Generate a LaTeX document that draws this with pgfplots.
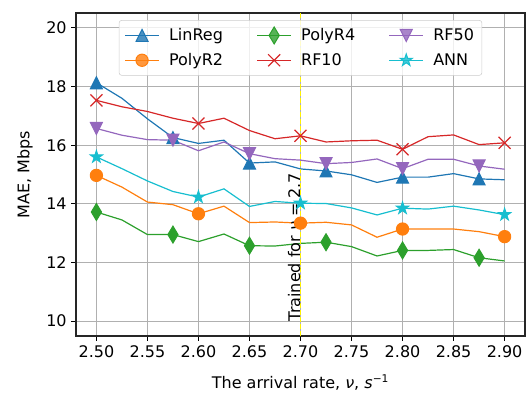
\documentclass[border=0pt]{standalone}
\usepackage{fontspec}
\setmainfont{DejaVu Sans}
\usepackage{pgfplots}
\pgfplotsset{compat=1.18}

\definecolor{c1}{HTML}{1F77B4}
\definecolor{c2}{HTML}{FF7F0E}
\definecolor{c3}{HTML}{2CA02C}
\definecolor{c4}{HTML}{D62728}
\definecolor{c5}{HTML}{9467BD}
\definecolor{c6}{HTML}{17BECF}
\definecolor{gridc}{HTML}{B0B0B0}

\pgfdeclareplotmark{mtri}{%
  \pgfpathmoveto{\pgfqpoint{0pt}{\pgfplotmarksize}}%
  \pgfpathlineto{\pgfqpoint{-\pgfplotmarksize}{-\pgfplotmarksize}}%
  \pgfpathlineto{\pgfqpoint{\pgfplotmarksize}{-\pgfplotmarksize}}%
  \pgfpathclose\pgfusepathqfillstroke}
\pgfdeclareplotmark{mtridown}{%
  \pgfpathmoveto{\pgfqpoint{0pt}{-\pgfplotmarksize}}%
  \pgfpathlineto{\pgfqpoint{-\pgfplotmarksize}{\pgfplotmarksize}}%
  \pgfpathlineto{\pgfqpoint{\pgfplotmarksize}{\pgfplotmarksize}}%
  \pgfpathclose\pgfusepathqfillstroke}
\pgfdeclareplotmark{tdiamond}{%
  \pgfpathmoveto{\pgfqpoint{0pt}{1.414\pgfplotmarksize}}%
  \pgfpathlineto{\pgfqpoint{0.85\pgfplotmarksize}{0pt}}%
  \pgfpathlineto{\pgfqpoint{0pt}{-1.414\pgfplotmarksize}}%
  \pgfpathlineto{\pgfqpoint{-0.85\pgfplotmarksize}{0pt}}%
  \pgfpathclose\pgfusepathqfillstroke}
\pgfdeclareplotmark{mx}{%
  \pgfpathmoveto{\pgfqpoint{-\pgfplotmarksize}{-\pgfplotmarksize}}%
  \pgfpathlineto{\pgfqpoint{\pgfplotmarksize}{\pgfplotmarksize}}%
  \pgfpathmoveto{\pgfqpoint{-\pgfplotmarksize}{\pgfplotmarksize}}%
  \pgfpathlineto{\pgfqpoint{\pgfplotmarksize}{-\pgfplotmarksize}}%
  \pgfusepathqstroke}
\pgfdeclareplotmark{fstar}{%
  \pgfpathmoveto{\pgfqpointpolar{90}{\pgfplotmarksize}}%
  \pgfpathlineto{\pgfqpointpolar{126}{0.382\pgfplotmarksize}}%
  \pgfpathlineto{\pgfqpointpolar{162}{\pgfplotmarksize}}%
  \pgfpathlineto{\pgfqpointpolar{198}{0.382\pgfplotmarksize}}%
  \pgfpathlineto{\pgfqpointpolar{234}{\pgfplotmarksize}}%
  \pgfpathlineto{\pgfqpointpolar{270}{0.382\pgfplotmarksize}}%
  \pgfpathlineto{\pgfqpointpolar{306}{\pgfplotmarksize}}%
  \pgfpathlineto{\pgfqpointpolar{342}{0.382\pgfplotmarksize}}%
  \pgfpathlineto{\pgfqpointpolar{18}{\pgfplotmarksize}}%
  \pgfpathlineto{\pgfqpointpolar{54}{0.382\pgfplotmarksize}}%
  \pgfpathclose\pgfusepathqfillstroke}

\pgfplotsset{
  sLin/.style={color=c1, line width=0.9pt, mark=mtri, mark size=4.5pt, mark repeat=3, mark options={solid, line width=0.75pt}},
  sP2/.style={color=c2, line width=0.9pt, mark=*, mark size=4.6pt, mark repeat=4, mark options={solid, line width=0.75pt}},
  sP4/.style={color=c3, line width=0.9pt, mark=tdiamond, mark size=4.5pt, mark repeat=3, mark options={solid, line width=0.75pt}},
  sRF10/.style={color=c4, line width=0.9pt, mark=mx, mark size=4.5pt, mark repeat=4, mark options={solid, line width=0.9pt}},
  sRF50/.style={color=c5, line width=0.9pt, mark=mtridown, mark size=4.5pt, mark repeat=3, mark options={solid, line width=0.75pt}},
  sANN/.style={color=c6, line width=0.9pt, mark=fstar, mark size=4.8pt, mark repeat=4, mark options={solid, line width=0.75pt}},
}

\begin{document}
\begin{tikzpicture}
\begin{axis}[
  scale only axis, width=336.75pt, height=242.25pt,
  font=\fontsize{12}{14.4}\selectfont,
  xmin=2.48, xmax=2.92, ymin=9.49, ymax=20.51,
  xtick={2.5,2.55,2.6,2.65,2.7,2.75,2.8,2.85,2.9},
  ytick={10,12,14,16,18,20},
  xticklabel style={/pgf/number format/.cd, fixed, fixed zerofill, precision=2},
  /pgf/number format/assume math mode=true,
  grid=major, major grid style={color=gridc, line width=0.7pt},
  tick align=outside, major tick length=3.5pt,
  xtick pos=bottom, ytick pos=left,
  every tick/.style={black, line width=0.8pt},
  axis line style={line width=0.8pt, black!85},
  xlabel={The arrival rate, \textit{ν}, \textit{s}\textsuperscript{−1}},
  ylabel={MAE, Mbps},
  xlabel style={at={(axis description cs:0.5,-0.161)}, anchor=base},
  ylabel style={at={(axis description cs:-0.1136,0.5)}, anchor=center},
  legend columns=3,
  legend style={at={(0.5,0.978)}, anchor=north, draw=black!20, rounded corners=2pt,
    fill=white, fill opacity=0.8, text opacity=1, font=\fontsize{12}{14.4}\selectfont,
    inner xsep=4pt, inner ysep=4pt, row sep=4pt,
    /tikz/every odd column/.append style={column sep=5pt},
    /tikz/every even column/.append style={column sep=23pt}},
  legend cell align=left,
  legend image code/.code={\draw[mark repeat=2,mark phase=2] plot coordinates {(0cm,0cm) (0.45cm,0cm) (0.9cm,0cm)};},
]
\addplot[sLin, forget plot] coordinates {
(2.5,18.13) (2.525,17.6) (2.55,16.9) (2.575,16.26) (2.6,16.06) (2.625,16.17) (2.65,15.39) (2.675,15.43) (2.7,15.19) (2.725,15.12) (2.75,14.99) (2.775,14.73) (2.8,14.91) (2.825,14.91) (2.85,15.03) (2.875,14.85) (2.9,14.82)};
\addplot[sP2, forget plot] coordinates {
(2.5,14.97) (2.525,14.57) (2.55,14.06) (2.575,13.97) (2.6,13.66) (2.625,13.92) (2.65,13.36) (2.675,13.38) (2.7,13.34) (2.725,13.37) (2.75,13.28) (2.775,12.86) (2.8,13.14) (2.825,13.14) (2.85,13.14) (2.875,13.05) (2.9,12.88)};
\addplot[sP4, forget plot] coordinates {
(2.5,13.72) (2.525,13.45) (2.55,12.95) (2.575,12.95) (2.6,12.71) (2.625,12.97) (2.65,12.57) (2.675,12.56) (2.7,12.65) (2.725,12.69) (2.75,12.54) (2.775,12.22) (2.8,12.41) (2.825,12.41) (2.85,12.44) (2.875,12.16) (2.9,12.05)};
\addplot[sRF10, forget plot] coordinates {
(2.5,17.53) (2.525,17.31) (2.55,17.15) (2.575,16.92) (2.6,16.74) (2.625,16.92) (2.65,16.5) (2.675,16.22) (2.7,16.32) (2.725,16.11) (2.75,16.15) (2.775,16.17) (2.8,15.86) (2.825,16.29) (2.85,16.35) (2.875,16.02) (2.9,16.08)};
\addplot[sRF50, forget plot] coordinates {
(2.5,16.57) (2.525,16.34) (2.55,16.19) (2.575,16.17) (2.6,15.81) (2.625,16.11) (2.65,15.71) (2.675,15.54) (2.7,15.49) (2.725,15.37) (2.75,15.41) (2.775,15.53) (2.8,15.2) (2.825,15.52) (2.85,15.52) (2.875,15.29) (2.9,15.18)};
\addplot[sANN, forget plot] coordinates {
(2.5,15.6) (2.525,15.2) (2.55,14.78) (2.575,14.42) (2.6,14.23) (2.625,14.51) (2.65,13.91) (2.675,14.08) (2.7,14.02) (2.725,14.01) (2.75,13.86) (2.775,13.62) (2.8,13.85) (2.825,13.82) (2.85,13.92) (2.875,13.79) (2.9,13.63)};
\addplot[color=yellow, line width=1.1pt, dash pattern=on 3.7pt off 1.6pt, forget plot] coordinates {(2.7,9.49) (2.7,20.51)};
\node[rotate=90, anchor=south west, inner sep=0pt, font=\fontsize{12}{14.4}\selectfont] at (axis cs:2.7,9.98) {Trained for \textit{ν} = 2.7};
\addlegendimage{sLin}\addlegendentry{LinReg}
\addlegendimage{sP4}\addlegendentry{PolyR4}
\addlegendimage{sRF50}\addlegendentry{RF50}
\addlegendimage{sP2}\addlegendentry{PolyR2}
\addlegendimage{sRF10}\addlegendentry{RF10}
\addlegendimage{sANN}\addlegendentry{ANN}
\end{axis}
\pgfresetboundingbox
\path[use as bounding box] ([shift={(-57pt,-42pt)}]current axis.south west) rectangle ([shift={(0.75pt,9.75pt)}]current axis.north east);
\end{tikzpicture}
\end{document}
